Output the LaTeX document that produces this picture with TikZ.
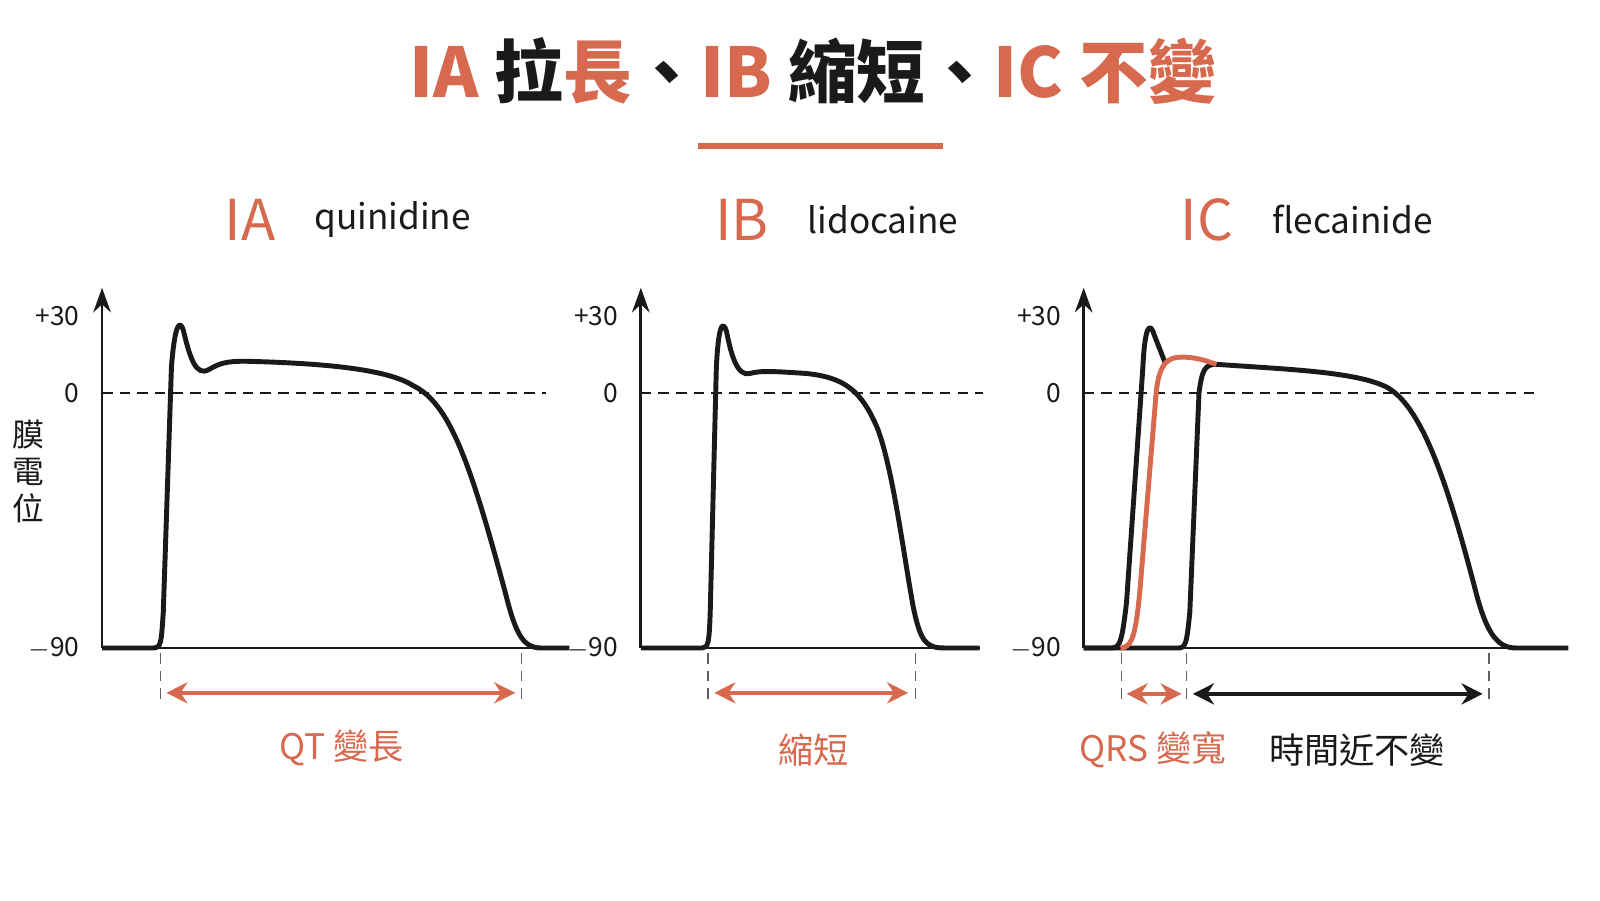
\documentclass[tikz,border=0pt]{standalone}
\usepackage{fontspec}
\setmainfont{Noto Sans CJK TC}
\usetikzlibrary{arrows.meta,positioning,calc}
\definecolor{accent}{HTML}{D6694E}
\definecolor{ink}{HTML}{1A1A1A}

\begin{document}
\begin{tikzpicture}[x=0.0102cm,y=-0.0102cm,
tick/.style={font=\fontsize{7.5}{8}\selectfont,anchor=east,text=ink},
ax/.style={thick,ink,-{Stealth[length=7pt,width=5pt]}},
zero/.style={ink,dashed,dash pattern=on 3pt off 2pt,thin},
guide/.style={ink!70,dashed,dash pattern=on 3pt off 2pt,thin},
ap/.style={line width=1.4pt,ink,line join=round},
span/.style={line width=1.3pt,{Stealth[length=6pt,width=6pt]}-{Stealth[length=6pt,width=6pt]}},
hd/.style={font=\fontsize{16}{18}\selectfont,text=accent},
drug/.style={font=\fontsize{10}{12}\selectfont,text=ink},
lab/.style={font=\fontsize{10}{12}\selectfont}]
\useasboundingbox (0,0) rectangle (1568,882);

% title
\node[font=\fontsize{19.5}{22}\selectfont\bfseries,text=ink] (title) at (797,70)
 {\textcolor{accent}{IA} 拉\textcolor{accent}{長}、\textcolor{accent}{IB} 縮短、\textcolor{accent}{IC 不變}};
\coordinate (u1) at (684,143); \coordinate (u2) at (924,143);
\draw[accent,line width=1.5pt] (u1) -- (u2);

% headings
\node[hd] (h1) at (245,215) {IA}; \node[drug,right=4pt of h1] {quinidine};
\node[hd] (h2) at (727,215) {IB}; \node[drug,right=4pt of h2] {lidocaine};
\node[hd] (h3) at (1183,215) {IC}; \node[drug,right=4pt of h3] {flecainide};

% y label
\node[font=\fontsize{9}{10.5}\selectfont,text=ink,align=center] (ylab) at (28,462) {膜\\電\\位};

% axes
\foreach \n/\x/\z/\e in {a/100/535/558,b/628/963/960,c/1062/1503/1537}{
  \coordinate (\n0) at (\x,635); \coordinate (\n1) at (\x,282);
  \coordinate (\n2) at (\x,385); \coordinate (\n3) at (\z,385);
  \coordinate (\n4) at (\e,635);
  \draw[ax] (\n0) -- (\n1);
  \draw[zero] (\n2) -- (\n3);
  \draw[ink,thick] (\n0) -- (\n4);
  \node[tick] at (\x-10,310) {+30};
  \node[tick] at (\x-10,385) {0};
  \node[tick] at (\x-10,635) {$-$90};
}

% panel IA
\draw[ap] (a0) -- (150,635) .. controls (158,635) and (158,630) .. (160,600)
 -- (168,360) .. controls (171,320) and (176,310) .. (180,325)
 .. controls (186,350) and (192,370) .. (205,362)
 .. controls (215,356) and (222,354) .. (240,354)
 .. controls (320,356) and (380,362) .. (405,378)
 .. controls (440,395) and (460,450) .. (495,580)
 .. controls (505,620) and (512,635) .. (530,635) -- (a4);
% panel IB
\draw[ap] (b0) -- (688,635) .. controls (694,635) and (695,630) .. (696,600)
 -- (702,360) .. controls (704,320) and (708,312) .. (712,325)
 .. controls (716,345) and (722,370) .. (735,366)
 .. controls (745,363) and (760,364) .. (790,366)
 .. controls (830,370) and (845,385) .. (860,420)
 .. controls (875,460) and (885,540) .. (895,595)
 .. controls (902,628) and (907,635) .. (925,635) -- (b4);
% panel IC
\draw[ap] (c0) -- (1090,635) .. controls (1098,635) and (1100,625) .. (1104,590)
 -- (1120,360) .. controls (1122,318) and (1127,315) .. (1131,328)
 -- (1142,356);
\draw[ap] (c0) -- (1155,635) .. controls (1162,635) and (1163,630) .. (1166,600)
 -- (1175,385) .. controls (1178,362) and (1181,357) .. (1192,357)
 .. controls (1260,362) and (1330,364) .. (1360,380)
 .. controls (1395,400) and (1420,480) .. (1445,575)
 .. controls (1455,615) and (1465,635) .. (1485,635) -- (c4);
\draw[accent,line width=1.4pt] (1098,635) .. controls (1110,635) and (1113,620) .. (1117,580)
 -- (1133,385) .. controls (1136,355) and (1145,350) .. (1158,350)
 .. controls (1175,350) and (1185,355) .. (1192,357);

% spans
\foreach \n/\x in {p1/157,p2/511,p3/694,p4/897,p5/1099,p6/1163,p7/1459}{
  \coordinate (\n) at (\x,640); \coordinate (\n') at (\x,688);
  \draw[guide] (\n) -- (\n');
}
\coordinate (s1) at (163,679); \coordinate (s2) at (505,679);
\coordinate (s3) at (700,679); \coordinate (s4) at (890,679);
\coordinate (s5) at (1104,680); \coordinate (s6) at (1158,680);
\coordinate (s7) at (1169,680); \coordinate (s8) at (1453,680);
\draw[span,accent] (s1) -- (s2);
\draw[span,accent] (s3) -- (s4);
\draw[span,accent] (s5) -- (s6);
\draw[span,ink] (s7) -- (s8);

% labels
\node[lab,text=accent] (l1) at (335,733) {QT 變長};
\node[lab,text=accent] (l2) at (797,735) {縮短};
\node[lab,text=accent] (l3) at (1130,735) {QRS 變寬};
\node[lab,text=ink] (l4) at (1330,735) {時間近不變};
\end{tikzpicture}
\end{document}
